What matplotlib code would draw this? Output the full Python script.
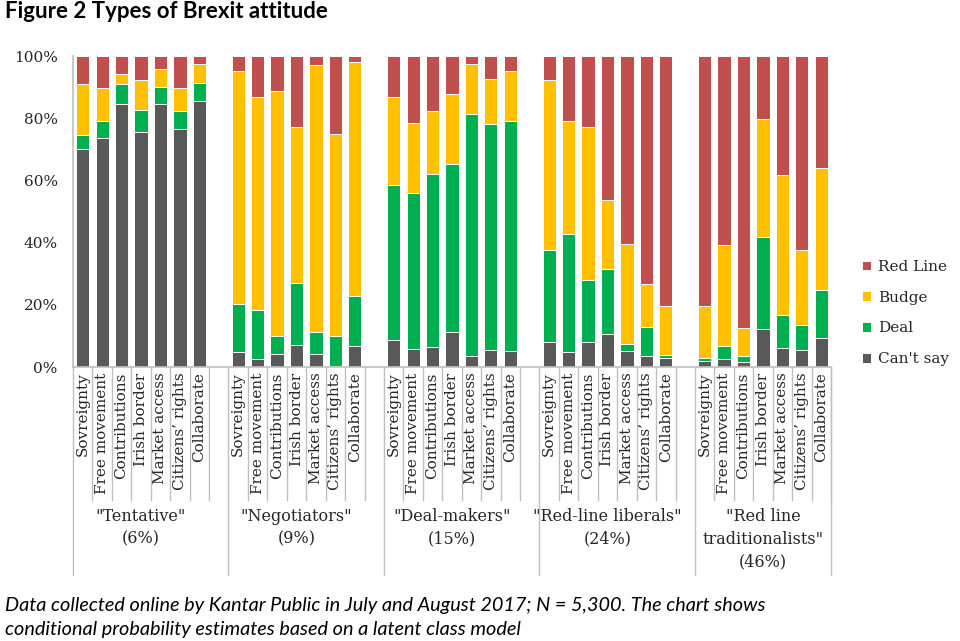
import numpy as np
import matplotlib
matplotlib.use("Agg")
import matplotlib.pyplot as plt
from matplotlib.ticker import PercentFormatter
import matplotlib.transforms as mtransforms

# data (percent), 5 groups x 7 issues
issues = ["Sovreignty", "Free movement", "Contributions", "Irish border",
          "Market access", "Citizens\u2019 rights", "Collaborate"]
groups = ['"Tentative"\n(6%)', '"Negotiators"\n(9%)', '"Deal-makers"\n(15%)',
          '"Red-line liberals"\n(24%)', '"Red line\ntraditionalists"\n(46%)']

cant_say = [70.0, 73.5, 84.5, 75.5, 84.7, 76.6, 85.4,
            4.9, 2.7, 4.3, 7.2, 4.3, 0.3, 6.9,
            8.8, 5.7, 6.3, 11.3, 3.4, 5.5, 5.1,
            8.1, 4.7, 8.1, 10.7, 5.1, 3.4, 3.0,
            1.8, 2.5, 1.6, 12.1, 6.0, 5.4, 9.2]
deal = [4.7, 5.6, 6.5, 7.2, 5.4, 5.8, 6.0,
        15.2, 15.5, 5.7, 19.8, 7.0, 9.8, 15.9,
        49.7, 50.4, 55.8, 53.9, 77.9, 72.6, 74.1,
        29.6, 38.2, 19.8, 20.9, 2.3, 9.4, 1.0,
        1.2, 4.3, 2.0, 29.7, 10.6, 8.2, 15.7]
budge = [16.2, 10.5, 3.1, 9.5, 5.6, 7.4, 5.9,
         75.1, 68.5, 78.9, 50.3, 85.8, 64.8, 75.4,
         28.4, 22.4, 20.3, 22.6, 16.0, 14.5, 16.0,
         54.5, 36.3, 49.2, 22.1, 32.3, 13.9, 15.6,
         16.6, 32.3, 9.0, 37.9, 45.0, 23.9, 39.2]
red_line = [9.1, 10.4, 5.9, 7.8, 4.3, 10.2, 2.7,
            4.8, 13.3, 11.1, 22.7, 2.9, 25.1, 1.8,
            13.1, 21.5, 17.6, 12.2, 2.7, 7.4, 4.8,
            7.8, 20.8, 22.9, 46.3, 60.3, 73.3, 80.4,
            80.4, 60.9, 87.4, 20.3, 38.4, 62.5, 35.9]

series = [("Can't say", cant_say, "#595959"),
          ("Deal", deal, "#00B050"),
          ("Budge", budge, "#FFC000"),
          ("Red Line", red_line, "#C0504D")]

n_issue = len(issues)
slot = n_issue + 1
x = np.array([g * slot + i for g in range(len(groups)) for i in range(n_issue)])

fig = plt.figure(figsize=(9.6, 6.41), dpi=100)
ax = fig.add_axes([73 / 960, 1 - 367 / 641, (831 - 73) / 960, 311 / 641])

bottom = np.zeros(len(x))
handles = []
for name, vals, col in series:
    v = np.array(vals)
    b = ax.bar(x, v, 0.68, bottom=bottom, color=col, edgecolor="white",
               linewidth=0.7, label=name)
    handles.append(b)
    bottom += v

ax.set_xlim(-0.5, len(groups) * slot - 1.5)
ax.set_ylim(0, 100)
ax.yaxis.set_major_locator(plt.MultipleLocator(20))
ax.yaxis.set_major_formatter(PercentFormatter(decimals=0))
for s in ["top", "right"]:
    ax.spines[s].set_visible(False)
for s in ["left", "bottom"]:
    ax.spines[s].set_color("#BFBFBF")
    ax.spines[s].set_linewidth(1.2)
ax.tick_params(axis="y", length=0, pad=11, labelsize=11, labelcolor="#262626")
ax.tick_params(axis="x", length=0, pad=4)
for t in ax.get_yticklabels():
    t.set_family("DejaVu Serif")

ax.set_xticks(x)
ax.set_xticklabels(issues * len(groups), rotation=90, family="DejaVu Serif",
                   fontsize=11, color="#262626", va="top", ha="center")

# category separators below the axis
trans = mtransforms.blended_transform_factory(ax.transData, ax.transAxes)
short_end = -(500 - 367) / 311
long_end = -(575 - 367) / 311
for g in range(len(groups)):
    start = g * slot - 0.5
    ax.plot([start, start], [0, long_end], color="#BFBFBF", lw=1.0,
            transform=trans, clip_on=False)
    for i in range(1, n_issue + 1):
        xs = start + i
        ax.plot([xs, xs], [0, short_end], color="#BFBFBF", lw=1.0,
                transform=trans, clip_on=False)
    ax.text(start + n_issue / 2, -(508 - 367) / 311, groups[g], transform=trans,
            ha="center", va="top", family="DejaVu Serif", fontsize=11.5,
            color="#262626", linespacing=1.45)
end = len(groups) * slot - 1.5
ax.plot([end, end], [0, long_end], color="#BFBFBF", lw=1.0,
        transform=trans, clip_on=False)

leg = fig.legend(handles[::-1], [h.get_label() for h in handles[::-1]],
                 loc="upper left", bbox_to_anchor=(848 / 960, 1 - 246 / 641),
                 frameon=False, handlelength=0.6, handleheight=0.6,
                 handletextpad=0.45, labelspacing=1.1,
                 prop={"family": "DejaVu Serif", "size": 11})
for t in leg.get_texts():
    t.set_color("#262626")

fig.text(5 / 960, 1 - 12 / 641, "Figure 2 Types of Brexit attitude",
         family="Lato", weight="bold", fontsize=16, va="center", ha="left")
fig.text(5 / 960, 1 - 605 / 641,
         "Data collected online by Kantar Public in July and August 2017; N = 5,300. The chart shows",
         family="Lato", style="italic", fontsize=14.3, va="center", ha="left")
fig.text(5 / 960, 1 - 630 / 641,
         "conditional probability estimates based on a latent class model",
         family="Lato", style="italic", fontsize=14.3, va="center", ha="left")

fig.savefig("out.png", dpi=100)
